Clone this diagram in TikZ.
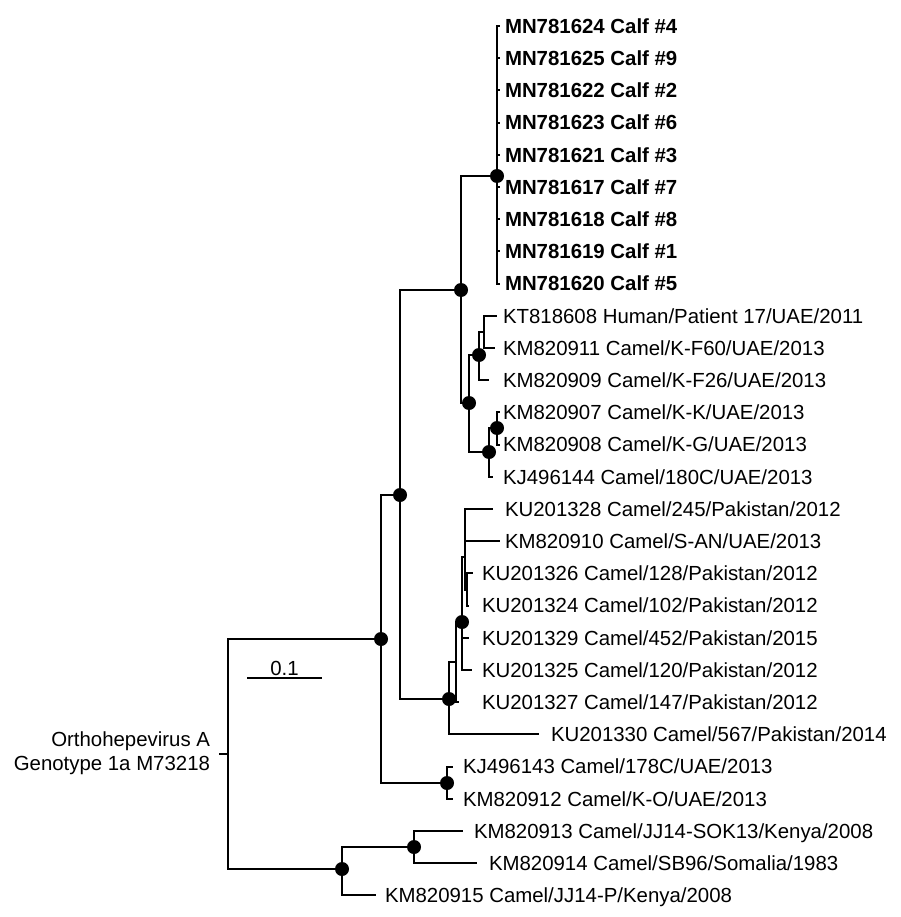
\documentclass[tikz,border=0pt]{standalone}
\usepackage{fontspec}
\setmainfont{Liberation Sans}
\begin{document}
\begin{tikzpicture}[x=1pt,y=-1pt,line width=2pt,
    dot/.style={circle,fill=black,inner sep=0pt,minimum size=14pt},
    leaf/.style={anchor=base west,inner sep=0pt,font=\fontsize{20.4}{24.5}\selectfont},
    calf/.style={leaf,font=\fontsize{20.4}{24.5}\selectfont\bfseries}]
      \useasboundingbox[fill=white](0,0) rectangle (900,917);
      \node[dot](N1) at (381,639) {};
      \node[dot](N2) at (400,495) {};
      \node[dot](N3) at (461,290) {};
      \node[dot](N4) at (449,699) {};
      \node[dot](N5) at (469,403) {};
      \node[dot](NC) at (497,176) {};
      \node[dot](N7) at (479,355) {};
      \node[dot](N8) at (489,452) {};
      \node[dot](N9) at (497,428) {};
      \node[dot](N10) at (462,622) {};
      \node[dot](NP) at (447,783) {};
      \node[dot](N11) at (342,869) {};
      \node[dot](N12) at (414,847) {};
      \coordinate(R) at (228,754);
      \coordinate(OG) at (219,754);
      \coordinate(M) at (484,332);
      \coordinate(A) at (456,662);
      \coordinate(B) at (465,557);
      \coordinate(D) at (467,590);
      \coordinate(T1) at (500,26);
      \coordinate(T2) at (500,58.2);
      \coordinate(T3) at (500,90.4);
      \coordinate(T4) at (500,122.6);
      \coordinate(T5) at (500,154.8);
      \coordinate(T6) at (500,187);
      \coordinate(T7) at (500,219.2);
      \coordinate(T8) at (500,251.4);
      \coordinate(T9) at (500,283.6);
      \coordinate(T10) at (497,315.8);
      \coordinate(T11) at (495,348);
      \coordinate(T12) at (489,380.2);
      \coordinate(T13) at (500,412.4);
      \coordinate(T14) at (500,444.6);
      \coordinate(T15) at (493,476.8);
      \coordinate(T16) at (493,509);
      \coordinate(T17) at (500,541.2);
      \coordinate(T18) at (473,573.4);
      \coordinate(T19) at (469,605.6);
      \coordinate(T20) at (469,637.8);
      \coordinate(T21) at (472,670);
      \coordinate(T22) at (459,702.2);
      \coordinate(T23) at (539,734.4);
      \coordinate(T24) at (453,766.6);
      \coordinate(T25) at (453,798.8);
      \coordinate(T26) at (463,831);
      \coordinate(T27) at (477,863.2);
      \coordinate(T28) at (376,895.4);
      \draw(OG)--(R) (R)|-(N1.center) (R)|-(N11.center);
      \draw(N1.center)|-(N2.center) (N1.center)|-(NP.center);
      \draw(N2.center)|-(N3.center) (N2.center)|-(N4.center);
      \draw(N3.center)|-(NC.center) (N3.center)|-(N5.center);
      \draw(NC.center)|-(T1) (NC.center)|-(T2) (NC.center)|-(T3) (NC.center)|-(T4) (NC.center)|-(T5)
        (NC.center)|-(T6) (NC.center)|-(T7) (NC.center)|-(T8) (NC.center)|-(T9);
      \draw(N5.center)|-(N7.center) (N5.center)|-(N8.center);
      \draw(N7.center)|-(M) (N7.center)|-(T12) (M)|-(T10) (M)|-(T11);
      \draw(N8.center)|-(N9.center) (N8.center)|-(T15) (N9.center)|-(T13) (N9.center)|-(T14);
      \draw(N4.center)|-(A) (N4.center)|-(T23) (A)|-(N10.center) (A)|-(T22);
      \draw(N10.center)|-(B) (N10.center)|-(T20) (N10.center)|-(T21);
      \draw(B)|-(T16) (B)|-(T17) (B)|-(D) (D)|-(T18) (D)|-(T19);
      \draw(NP.center)|-(T24) (NP.center)|-(T25);
      \draw(N11.center)|-(N12.center) (N11.center)|-(T28) (N12.center)|-(T26) (N12.center)|-(T27);
      \node[calf](L1) at (504,33.3) {MN781624 Calf \#4};
      \node[calf](L2) at (504,65.5) {MN781625 Calf \#9};
      \node[calf](L3) at (504,97.7) {MN781622 Calf \#2};
      \node[calf](L4) at (504,129.9) {MN781623 Calf \#6};
      \node[calf](L5) at (504,162.1) {MN781621 Calf \#3};
      \node[calf](L6) at (504,194.3) {MN781617 Calf \#7};
      \node[calf](L7) at (504,226.5) {MN781618 Calf \#8};
      \node[calf](L8) at (504,258.7) {MN781619 Calf \#1};
      \node[calf](L9) at (504,290.9) {MN781620 Calf \#5};
      \node[leaf](L10) at (502,323.1) {KT818608 Human/Patient 17/UAE/2011};
      \node[leaf](L11) at (502,355.3) {KM820911 Camel/K-F60/UAE/2013};
      \node[leaf](L12) at (502,387.5) {KM820909 Camel/K-F26/UAE/2013};
      \node[leaf](L13) at (502,419.7) {KM820907 Camel/K-K/UAE/2013};
      \node[leaf](L14) at (502,451.9) {KM820908 Camel/K-G/UAE/2013};
      \node[leaf](L15) at (502,484.1) {KJ496144 Camel/180C/UAE/2013};
      \node[leaf](L16) at (504,516.3) {KU201328 Camel/245/Pakistan/2012};
      \node[leaf](L17) at (504,548.5) {KM820910 Camel/S-AN/UAE/2013};
      \node[leaf](L18) at (481,580.7) {KU201326 Camel/128/Pakistan/2012};
      \node[leaf](L19) at (481,612.9) {KU201324 Camel/102/Pakistan/2012};
      \node[leaf](L20) at (481,645.1) {KU201329 Camel/452/Pakistan/2015};
      \node[leaf](L21) at (481,677.3) {KU201325 Camel/120/Pakistan/2012};
      \node[leaf](L22) at (481,709.5) {KU201327 Camel/147/Pakistan/2012};
      \node[leaf](L23) at (550,741.7) {KU201330 Camel/567/Pakistan/2014};
      \node[leaf](L24) at (462,773.9) {KJ496143 Camel/178C/UAE/2013};
      \node[leaf](L25) at (462,806.1) {KM820912 Camel/K-O/UAE/2013};
      \node[leaf](L26) at (473,838.3) {KM820913 Camel/JJ14-SOK13/Kenya/2008};
      \node[leaf](L27) at (488,870.5) {KM820914 Camel/SB96/Somalia/1983};
      \node[leaf](L28) at (384,902.7) {KM820915 Camel/JJ14-P/Kenya/2008};
      \node[leaf,anchor=base east](OGA) at (211,746.3) {Orthohepevirus A};
      \node[leaf,anchor=base east](OGB) at (211,770.3) {Genotype 1a M73218};
      \coordinate(S1) at (247,678);
      \coordinate(S2) at (322,678);
      \draw(S1)--(S2);
      \node[leaf,anchor=base](SL) at (284.5,675) {0.1};
    \end{tikzpicture}
\end{document}
